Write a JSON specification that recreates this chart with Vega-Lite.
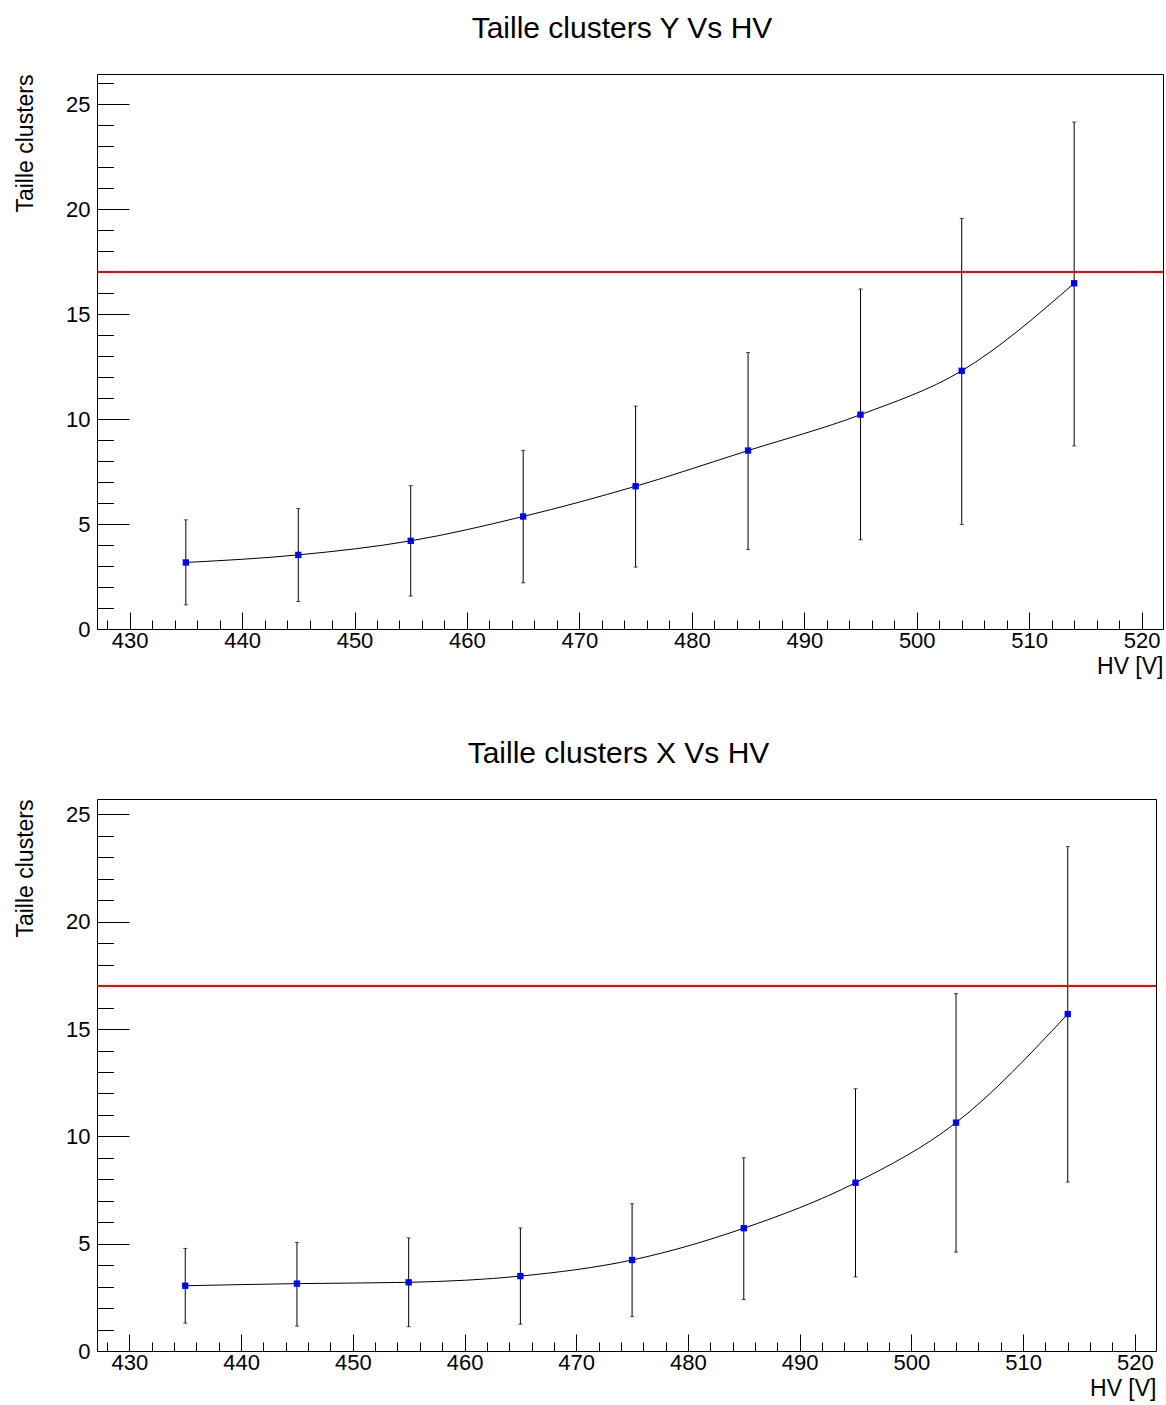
{
  "$schema": "https://vega.github.io/schema/vega-lite/v6.json",
  "padding": {"left": 13, "top": 13, "right": 3, "bottom": 3},
  "background": "white",
  "datasets": {
    "ydata": [
      {"hv": 435, "val": 3.17, "lo": 1.15, "hi": 5.2},
      {"hv": 445, "val": 3.53, "lo": 1.31, "hi": 5.74},
      {"hv": 455, "val": 4.2, "lo": 1.57, "hi": 6.83},
      {"hv": 465, "val": 5.36, "lo": 2.2, "hi": 8.51},
      {"hv": 475, "val": 6.8, "lo": 2.95, "hi": 10.62},
      {"hv": 485, "val": 8.5, "lo": 3.79, "hi": 13.17},
      {"hv": 495, "val": 10.21, "lo": 4.25, "hi": 16.2},
      {"hv": 504, "val": 12.3, "lo": 4.98, "hi": 19.56},
      {"hv": 514, "val": 16.47, "lo": 8.72, "hi": 24.15}
    ],
    "xdata": [
      {"hv": 435, "val": 3.04, "lo": 1.3, "hi": 4.78},
      {"hv": 445, "val": 3.14, "lo": 1.16, "hi": 5.06},
      {"hv": 455, "val": 3.2, "lo": 1.13, "hi": 5.27},
      {"hv": 465, "val": 3.49, "lo": 1.25, "hi": 5.73},
      {"hv": 475, "val": 4.24, "lo": 1.6, "hi": 6.86},
      {"hv": 485, "val": 5.72, "lo": 2.4, "hi": 9.0},
      {"hv": 495, "val": 7.84, "lo": 3.45, "hi": 12.22},
      {"hv": 504, "val": 10.64, "lo": 4.61, "hi": 16.65},
      {"hv": 514, "val": 15.7, "lo": 7.87, "hi": 23.5}
    ]
  },
  "spacing": 59,
  "vconcat": [
    {
      "width": 1066,
      "height": 555,
      "title": {"text": "Taille clusters Y Vs HV", "anchor": "middle", "frame": "group", "dx": -8, "baseline": "alphabetic", "offset": 6},
      "data": {"name": "ydata"},
      "resolve": {"axis": {"x": "independent", "y": "independent"}},
      "layer": [
        {
          "mark": {"type": "rule", "color": "#000", "strokeWidth": 1},
          "encoding": {
            "x": {"field": "hv", "type": "quantitative", "scale": {"domain": [427.1, 521.9], "nice": false, "zero": false},
              "axis": {"orient": "bottom", "values": [430, 440, 450, 460, 470, 480, 490, 500, 510, 520], "tickSize": -17, "labelPadding": 18.5, "title": "HV [V]", "titleAnchor": "end", "titlePadding": 4, "format": "d", "labelFlush": false, "labelOverlap": false}},
            "y": {"field": "lo", "type": "quantitative", "scale": {"domain": [0, 26.44], "nice": false, "zero": false},
              "axis": {"orient": "left", "values": [0, 5, 10, 15, 20, 25], "tickSize": -32, "labelPadding": 39, "title": "Taille clusters", "titleAngle": -90, "titleX": -83, "titleY": 0, "titleAlign": "right", "titleBaseline": "top", "format": "d", "labelFlush": false, "labelOverlap": false}},
            "y2": {"field": "hi"}
          }
        },
        {
          "mark": {"type": "tick", "orient": "horizontal", "color": "#000", "size": 4, "thickness": 1},
          "encoding": {
            "x": {"field": "hv", "type": "quantitative",
              "axis": {"orient": "bottom", "values": [428, 430, 432, 434, 436, 438, 440, 442, 444, 446, 448, 450, 452, 454, 456, 458, 460, 462, 464, 466, 468, 470, 472, 474, 476, 478, 480, 482, 484, 486, 488, 490, 492, 494, 496, 498, 500, 502, 504, 506, 508, 510, 512, 514, 516, 518, 520], "tickSize": -9, "labels": false, "title": null}},
            "y": {"field": "lo", "type": "quantitative",
              "axis": {"orient": "left", "values": [0, 1, 2, 3, 4, 5, 6, 7, 8, 9, 10, 11, 12, 13, 14, 15, 16, 17, 18, 19, 20, 21, 22, 23, 24, 25, 26], "tickSize": -16.5, "labels": false, "title": null}}
          }
        },
        {
          "mark": {"type": "tick", "orient": "horizontal", "color": "#000", "size": 4, "thickness": 1},
          "encoding": {
            "x": {"field": "hv", "type": "quantitative", "axis": null},
            "y": {"field": "hi", "type": "quantitative", "axis": null}
          }
        },
        {
          "mark": {"type": "line", "color": "#000", "strokeWidth": 1, "interpolate": "monotone"},
          "encoding": {
            "x": {"field": "hv", "type": "quantitative", "axis": null},
            "y": {"field": "val", "type": "quantitative", "axis": null}
          }
        },
        {
          "mark": {"type": "point", "shape": "square", "filled": true, "color": "#0000ff", "size": 40, "opacity": 1},
          "encoding": {
            "x": {"field": "hv", "type": "quantitative", "axis": null},
            "y": {"field": "val", "type": "quantitative", "axis": null}
          }
        },
        {
          "mark": {"type": "rule", "color": "#ff0000", "strokeWidth": 1.2},
          "encoding": {
            "y": {"datum": 17, "type": "quantitative", "axis": null}
          }
        }
      ]
    },
    {
      "width": 1059,
      "height": 552,
      "title": {"text": "Taille clusters X Vs HV", "anchor": "middle", "frame": "group", "dx": -8, "baseline": "alphabetic", "offset": 6},
      "data": {"name": "xdata"},
      "resolve": {"axis": {"x": "independent", "y": "independent"}},
      "layer": [
        {
          "mark": {"type": "rule", "color": "#000", "strokeWidth": 1},
          "encoding": {
            "x": {"field": "hv", "type": "quantitative", "scale": {"domain": [427.1, 521.9], "nice": false, "zero": false},
              "axis": {"orient": "bottom", "values": [430, 440, 450, 460, 470, 480, 490, 500, 510, 520], "tickSize": -17, "labelPadding": 18.5, "title": "HV [V]", "titleAnchor": "end", "titlePadding": 4, "format": "d", "labelFlush": false, "labelOverlap": false}},
            "y": {"field": "lo", "type": "quantitative", "scale": {"domain": [0, 25.72], "nice": false, "zero": false},
              "axis": {"orient": "left", "values": [0, 5, 10, 15, 20, 25], "tickSize": -32, "labelPadding": 39, "title": "Taille clusters", "titleAngle": -90, "titleX": -83, "titleY": 0, "titleAlign": "right", "titleBaseline": "top", "format": "d", "labelFlush": false, "labelOverlap": false}},
            "y2": {"field": "hi"}
          }
        },
        {
          "mark": {"type": "tick", "orient": "horizontal", "color": "#000", "size": 4, "thickness": 1},
          "encoding": {
            "x": {"field": "hv", "type": "quantitative",
              "axis": {"orient": "bottom", "values": [428, 430, 432, 434, 436, 438, 440, 442, 444, 446, 448, 450, 452, 454, 456, 458, 460, 462, 464, 466, 468, 470, 472, 474, 476, 478, 480, 482, 484, 486, 488, 490, 492, 494, 496, 498, 500, 502, 504, 506, 508, 510, 512, 514, 516, 518, 520], "tickSize": -9, "labels": false, "title": null}},
            "y": {"field": "lo", "type": "quantitative",
              "axis": {"orient": "left", "values": [0, 1, 2, 3, 4, 5, 6, 7, 8, 9, 10, 11, 12, 13, 14, 15, 16, 17, 18, 19, 20, 21, 22, 23, 24, 25], "tickSize": -16.5, "labels": false, "title": null}}
          }
        },
        {
          "mark": {"type": "tick", "orient": "horizontal", "color": "#000", "size": 4, "thickness": 1},
          "encoding": {
            "x": {"field": "hv", "type": "quantitative", "axis": null},
            "y": {"field": "hi", "type": "quantitative", "axis": null}
          }
        },
        {
          "mark": {"type": "line", "color": "#000", "strokeWidth": 1, "interpolate": "monotone"},
          "encoding": {
            "x": {"field": "hv", "type": "quantitative", "axis": null},
            "y": {"field": "val", "type": "quantitative", "axis": null}
          }
        },
        {
          "mark": {"type": "point", "shape": "square", "filled": true, "color": "#0000ff", "size": 40, "opacity": 1},
          "encoding": {
            "x": {"field": "hv", "type": "quantitative", "axis": null},
            "y": {"field": "val", "type": "quantitative", "axis": null}
          }
        },
        {
          "mark": {"type": "rule", "color": "#ff0000", "strokeWidth": 1.2},
          "encoding": {
            "y": {"datum": 17, "type": "quantitative", "axis": null}
          }
        }
      ]
    }
  ],
  "config": {
    "font": "Liberation Sans",
    "view": {"stroke": "#000", "strokeWidth": 1},
    "axis": {"domain": false, "grid": false, "tickColor": "#000", "tickWidth": 1, "labelColor": "#000", "labelFont": "Liberation Sans", "labelFontSize": 22, "titleFont": "Liberation Sans", "titleFontSize": 23, "titleFontWeight": "normal", "titleColor": "#000"},
    "title": {"font": "Liberation Sans", "fontSize": 30, "fontWeight": "normal", "color": "#000"}
  }
}
